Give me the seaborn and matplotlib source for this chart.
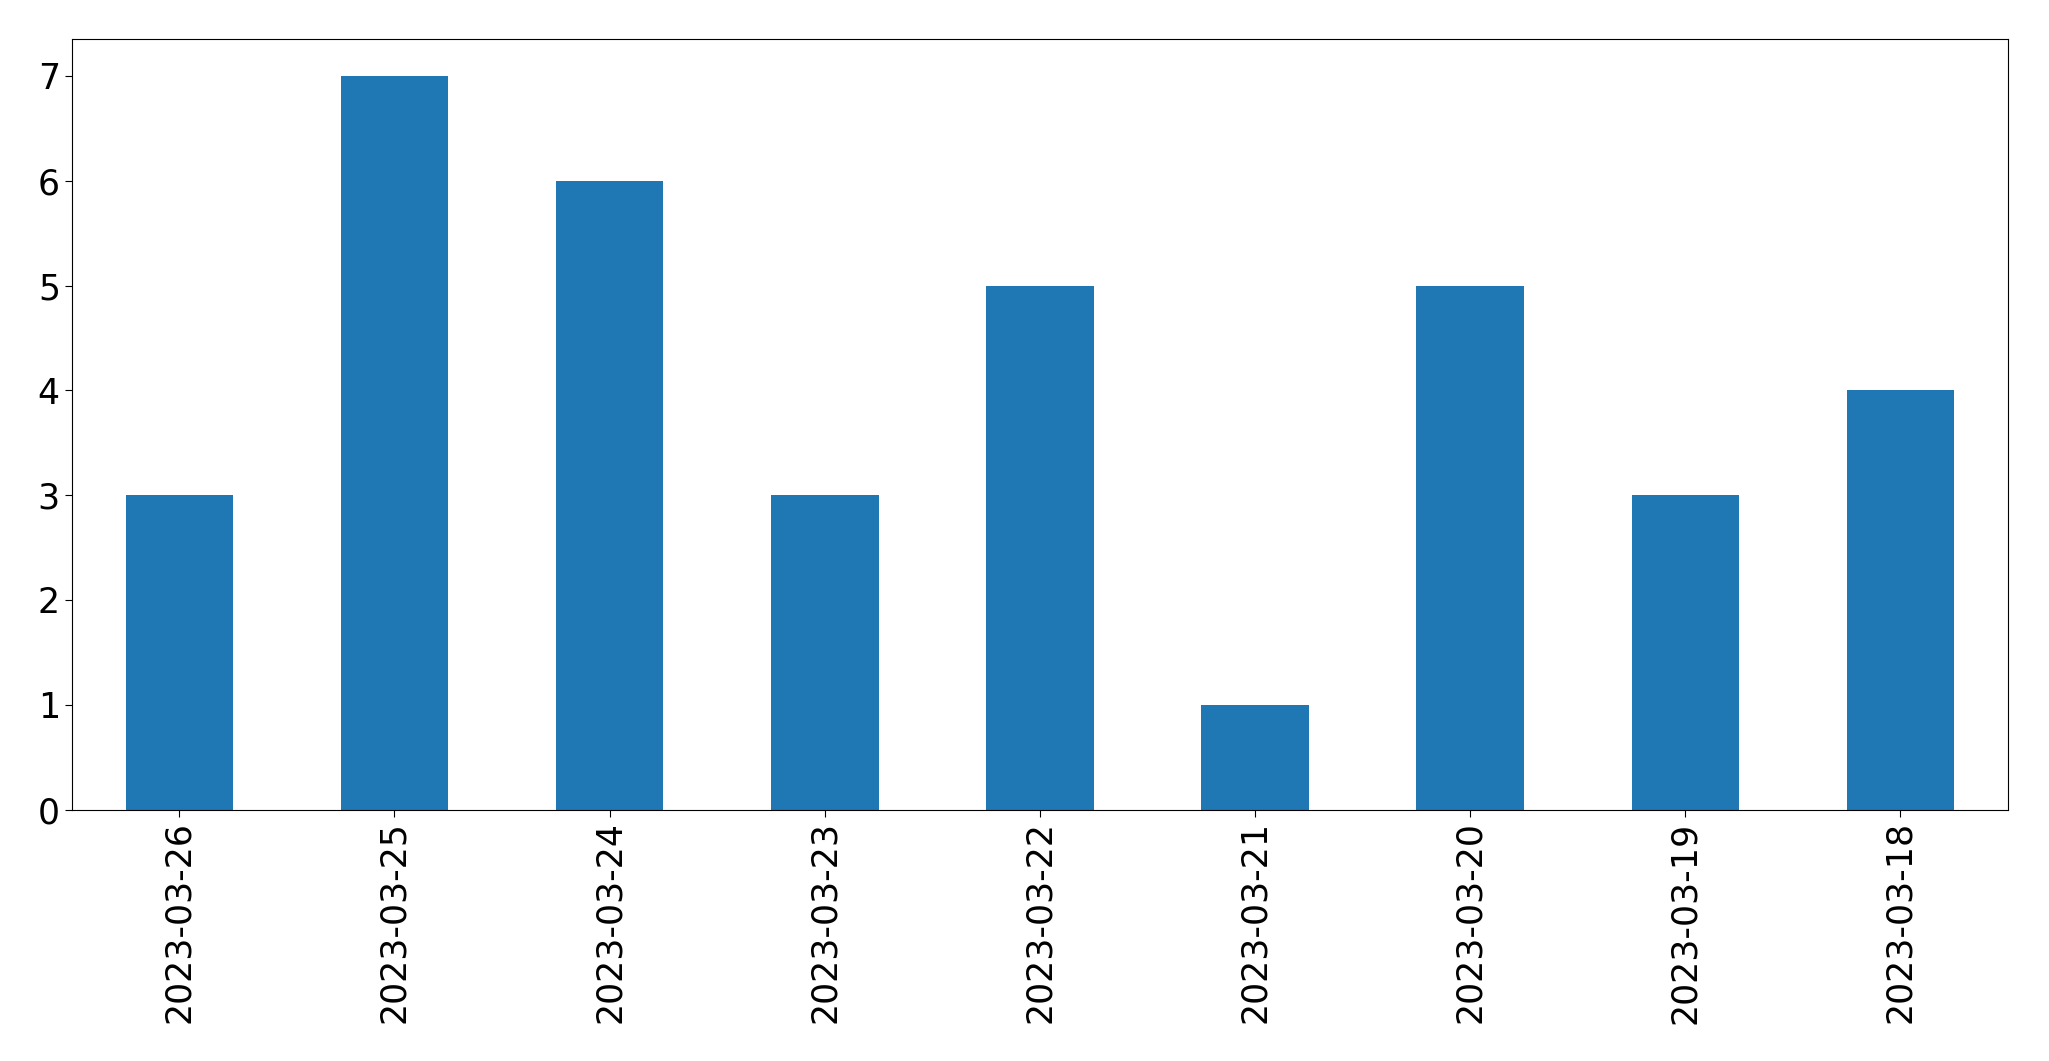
import pandas as pd
import matplotlib
matplotlib.use("Agg")
import matplotlib.pyplot as plt
import seaborn as sns

dates = ['2023-03-26', '2023-03-25', '2023-03-24', '2023-03-23', '2023-03-22',
         '2023-03-21', '2023-03-20', '2023-03-19', '2023-03-18']
counts = [3, 7, 6, 3, 5, 1, 5, 3, 4]

df = pd.DataFrame({'date': dates, 'count': counts})

fig, ax = plt.subplots(figsize=(20.49, 10.61), dpi=100)
sns.barplot(data=df, x='date', y='count', order=dates, color='#1f77b4',
            saturation=1, width=0.5, linewidth=0, ax=ax)

ax.set_xlim(-0.5, len(dates) - 0.5)
ax.set_ylim(0, 7.35)
ax.set_xlabel('')
ax.set_ylabel('')
ax.tick_params(axis='both', labelsize=25, length=5)
plt.xticks(rotation=90)
plt.subplots_adjust(left=0.035, right=0.980, top=0.963, bottom=0.237)
plt.savefig('out.png', dpi=100)
